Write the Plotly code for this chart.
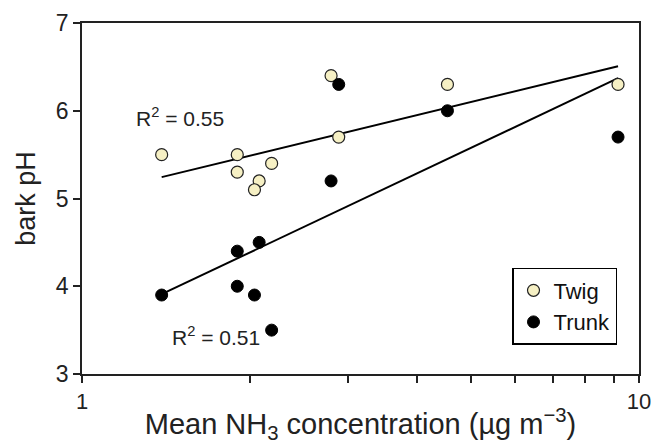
import numpy as np
import plotly.graph_objects as go

# Mean NH3 concentration (ug m-3) at each site
nh3 = [1.39, 1.90, 1.90, 2.19, 2.08, 2.04, 2.80, 2.89, 4.53, 9.17]
# bark pH
twig_ph = [5.5, 5.5, 5.3, 5.4, 5.2, 5.1, 6.4, 5.7, 6.3, 6.3]
trunk_ph = [3.9, 4.4, 4.0, 3.5, 4.5, 3.9, 5.2, 6.3, 6.0, 5.7]

x_ticks = [1, 10]
x_tick_text = ["1", "10"]
x_minor_ticks = [2, 3, 4, 5, 6, 7, 8, 9]
y_ticks = [3, 4, 5, 6, 7]

FONT = "Arial, Liberation Sans, Helvetica, sans-serif"
TWIG_FILL = "#F6F0C4"
AX = "#222222"

def fit_line(x, y):
    lx = np.log10(np.array(x))
    slope, icpt = np.polyfit(lx, np.array(y), 1)
    xs = np.array([min(x), max(x)])
    return xs, slope * np.log10(xs) + icpt

fig = go.Figure()

tx, ty = fit_line(nh3, twig_ph)
kx, ky = fit_line(nh3, trunk_ph)
fig.add_trace(go.Scatter(x=tx, y=ty, mode="lines", line=dict(color="black", width=2),
                         showlegend=False, hoverinfo="skip"))
fig.add_trace(go.Scatter(x=kx, y=ky, mode="lines", line=dict(color="black", width=2),
                         showlegend=False, hoverinfo="skip"))

fig.add_trace(go.Scatter(x=nh3, y=twig_ph, mode="markers", name="Twig",
                         marker=dict(size=12, color=TWIG_FILL, line=dict(color="#222222", width=1.2))))
fig.add_trace(go.Scatter(x=nh3, y=trunk_ph, mode="markers", name="Trunk",
                         marker=dict(size=12, color="black", line=dict(color="black", width=1))))

fig.add_annotation(x=np.log10(1.50), y=5.93, xref="x", yref="y", text="R<sup>2</sup> = 0.55",
                   showarrow=False, font=dict(size=21, color="#222222", family=FONT))
fig.add_annotation(x=np.log10(1.74), y=3.43, xref="x", yref="y", text="R<sup>2</sup> = 0.51",
                   showarrow=False, font=dict(size=21, color="#222222", family=FONT))

fig.update_layout(
    width=653, height=444,
    margin=dict(l=82, r=14, t=23, b=70),
    paper_bgcolor="white", plot_bgcolor="white",
    font=dict(family=FONT, color="#222222"),
    legend=dict(x=0.772, y=0.302, xanchor="left", yanchor="top",
                bordercolor="black", borderwidth=1.5, bgcolor="white",
                font=dict(size=22, family=FONT, color="#111111"),
                itemwidth=30, tracegroupgap=0),
)
fig.update_xaxes(
    type="log", range=[0, 1], tickvals=x_ticks, ticktext=x_tick_text,
    ticks="outside", ticklen=7, tickcolor=AX, tickwidth=1.5,
    minor=dict(tickvals=x_minor_ticks, ticks="outside", ticklen=7,
               tickcolor=AX, tickwidth=1.5, showgrid=False),
    showline=True, linecolor=AX, linewidth=1.5, mirror=True,
    showgrid=False, zeroline=False, automargin=False,
    tickfont=dict(size=22, family=FONT),
    title=dict(text="Mean NH<sub>3</sub> concentration (µg m<sup>−3</sup>)",
               font=dict(size=29, family=FONT), standoff=2),
)
fig.update_yaxes(
    range=[3, 7], tickvals=y_ticks,
    ticks="outside", ticklen=7, tickcolor=AX, tickwidth=1.5,
    showline=True, linecolor=AX, linewidth=1.5, mirror=True,
    showgrid=False, zeroline=False, automargin=False,
    tickfont=dict(size=23, family=FONT),
    title=dict(text="bark pH", font=dict(size=27, family=FONT), standoff=12),
)

fig.write_html("out.html")
